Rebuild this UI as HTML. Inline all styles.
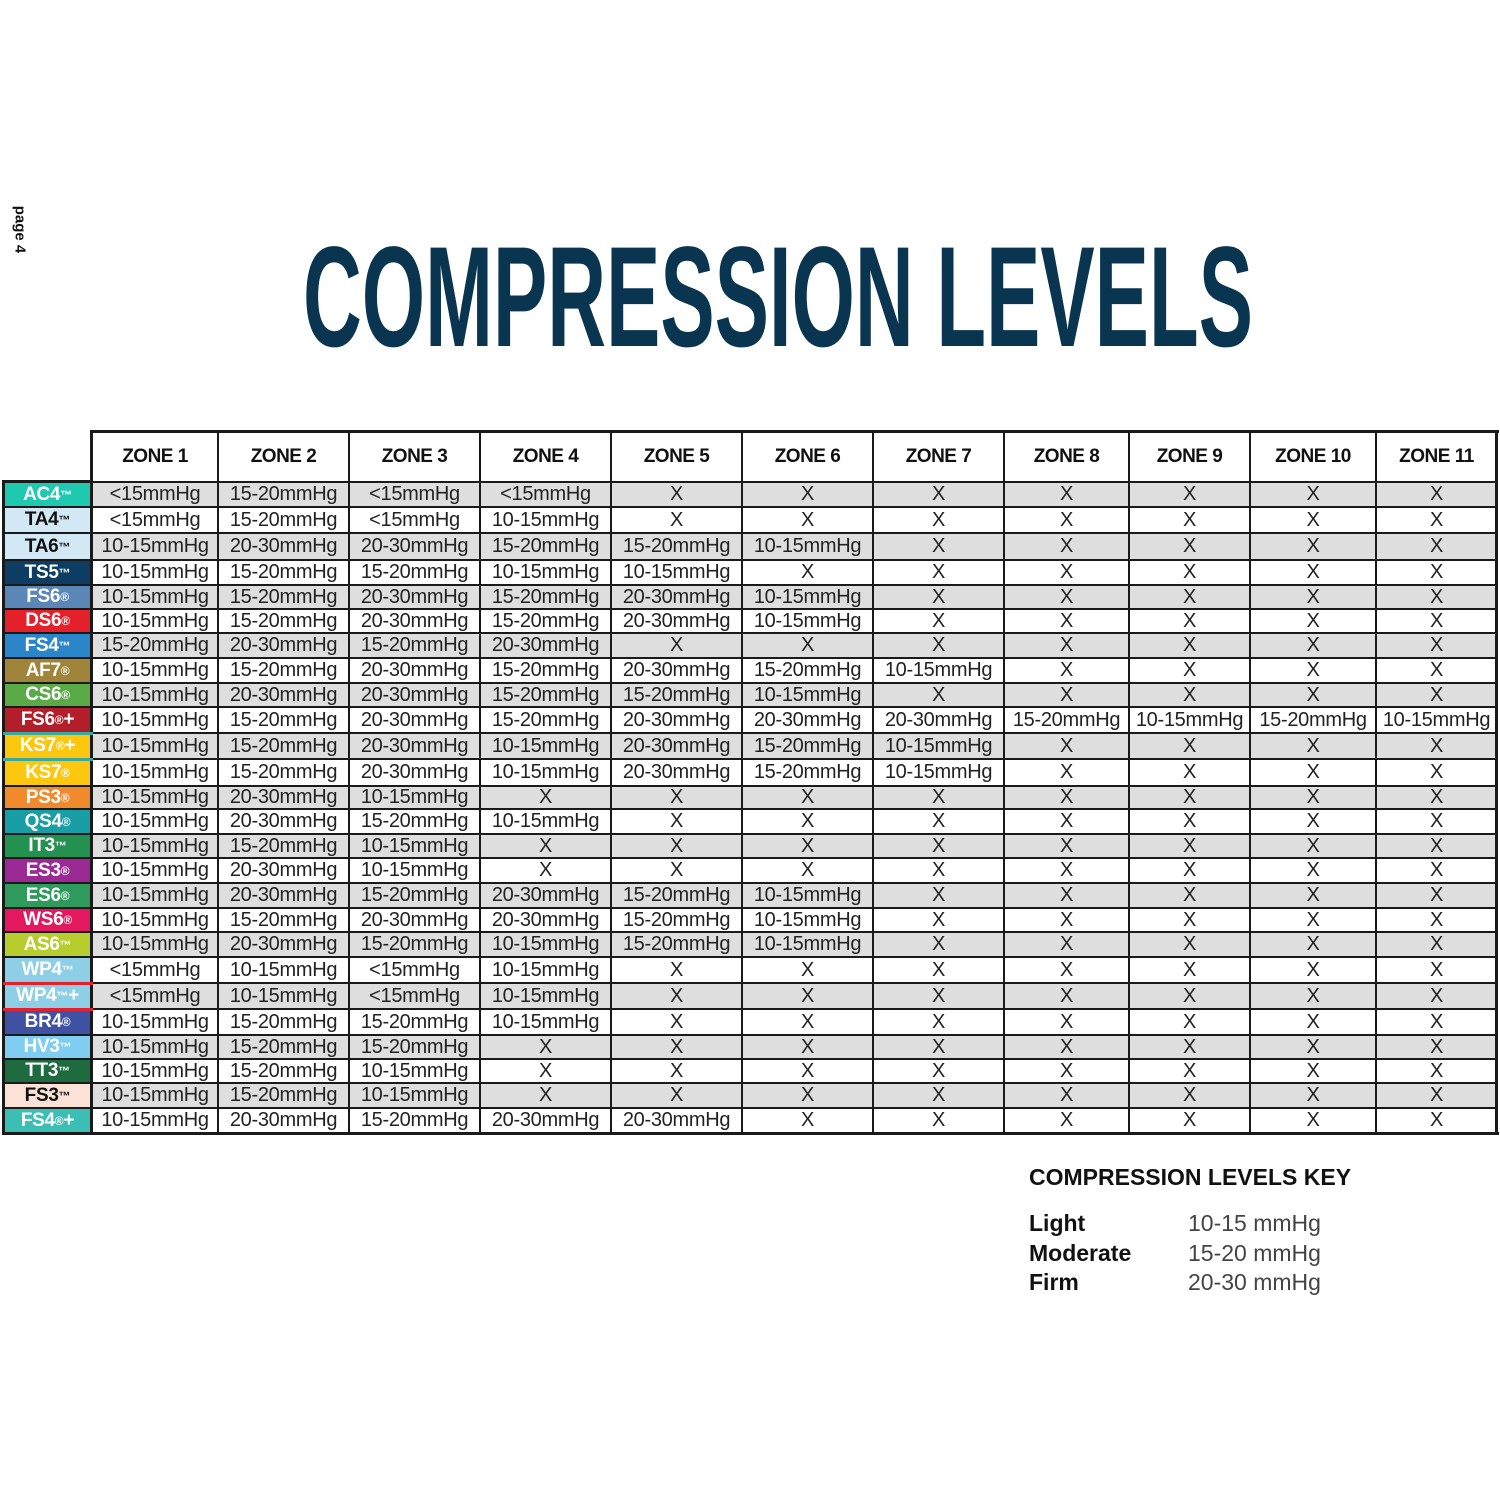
<!DOCTYPE html>
<html><head><meta charset="utf-8"><style>
body{margin:0;width:1500px;height:1500px;background:#fff;position:relative;overflow:hidden;font-family:"Liberation Sans",sans-serif;}
.c{position:absolute;box-sizing:border-box;display:flex;align-items:center;justify-content:center;font-size:20px;letter-spacing:-0.3px;color:#222;white-space:nowrap;}
.h{font-weight:bold;font-size:19px;color:#111;letter-spacing:-0.5px}
.l{font-weight:bold;font-size:19px;color:#fff;justify-content:center}
.v{position:absolute;background:#1a1a1a}
</style></head><body>
<div style="position:absolute;left:-10px;top:221px;transform:rotate(90deg);transform-origin:center;font-weight:bold;font-size:15px;color:#111;width:60px;text-align:center;white-space:nowrap;">page 4</div>
<svg style="position:absolute;left:0;top:0" width="1500" height="400"><text x="303" y="346" font-family="Liberation Sans, sans-serif" font-weight="bold" font-size="143" fill="#0a3550" textLength="950" lengthAdjust="spacingAndGlyphs">COMPRESSION LEVELS</text></svg>
<div id="t"></div>
<div style="position:absolute;left:1029px;top:1164px;font-weight:bold;font-size:23px;color:#111;">COMPRESSION LEVELS KEY</div>
<div style="position:absolute;left:1029px;top:1209px;font-weight:bold;font-size:23px;line-height:29.5px;color:#111;">Light<br>Moderate<br>Firm</div>
<div style="position:absolute;left:1188px;top:1209px;font-size:23px;line-height:29.5px;color:#444;">10-15 mmHg<br>15-20 mmHg<br>20-30 mmHg</div>
<script>
var cols=[92,218,349,480,611,742,873,1004,1129,1250,1376,1497];
var rows=[482,507,533,560,585,609,633,658,683,707,733,759,786,809,834,858,883,908,932,957,983,1009,1035,1059,1083,1108,1133];
var A="10-15mmHg",B="15-20mmHg",C="20-30mmHg",L="<15mmHg";
var data=[
["AC4™","#1fc9b0","#fff",[L,B,L,L]],
["TA4™","#d3e8f5","#111",[L,B,L,A]],
["TA6™","#d3e8f5","#111",[A,C,C,B,B,A]],
["TS5™","#0d3d63","#fff",[A,B,B,A,A]],
["FS6®","#5b86b8","#fff",[A,B,C,B,C,A]],
["DS6®","#e4202b","#fff",[A,B,C,B,C,A]],
["FS4™","#2a86c8","#fff",[B,C,B,C]],
["AF7®","#a0843a","#fff",[A,B,C,B,C,B,A]],
["CS6®","#5aab48","#fff",[A,C,C,B,B,A]],
["FS6®+","#b21f2a","#fff",[A,B,C,B,C,C,C,B,A,B,A]],
["KS7®+","#fcc70e","#fff",[A,B,C,A,C,B,A]],
["KS7®","#fcc70e","#fff",[A,B,C,A,C,B,A]],
["PS3®","#f18a2c","#fff",[A,C,A]],
["QS4®","#1a9ea6","#fff",[A,C,B,A]],
["IT3™","#23914f","#fff",[A,B,A]],
["ES3®","#9b2a94","#fff",[A,C,A]],
["ES6®","#2e9a5b","#fff",[A,C,B,C,B,A]],
["WS6®","#e3185e","#fff",[A,B,C,C,B,A]],
["AS6™","#b7cd2e","#fff",[A,C,B,A,B,A]],
["WP4™","#8ecfe8","#fff",[L,A,L,A]],
["WP4™+","#8ecfe8","#fff",[L,A,L,A]],
["BR4®","#3f51a3","#fff",[A,B,B,A]],
["HV3™","#7fcdf0","#fff",[A,B,B]],
["TT3™","#1d6b3f","#fff",[A,B,A]],
["FS3™","#fbe2d6","#111",[A,B,A]],
["FS4®+","#3bbfb4","#fff",[A,C,B,C,C]]];
var h="";
function d(x,y,w,hh,cls,st,txt){h+='<div class="'+cls+'" style="left:'+x+'px;top:'+y+'px;width:'+w+'px;height:'+hh+'px;'+st+'">'+txt+'</div>';}
for(var i=0;i<11;i++)d(cols[i],432,cols[i+1]-cols[i],50,"c h","","ZONE "+(i+1));
for(var r=0;r<26;r++){var y=rows[r],hh=rows[r+1]-y,row=data[r];
 var bg=r%2==0?"#dedede":"#fff";
 d(3,y,89,hh,"c l","background:"+row[1]+";color:"+row[2]+";",row[0].replace(/([™®])/g,'<sup style="font-size:12px;line-height:0">$1</sup>'));
 for(var i=0;i<11;i++){var v=row[3][i]||"X";d(cols[i],y,cols[i+1]-cols[i],hh,"c","background:"+bg+";",v.replace("<","&lt;"));}
 h+='<div class="v" style="left:3px;top:'+(y-1)+'px;width:1494px;height:2px"></div>';
}
for(var i=0;i<cols.length;i++)h+='<div class="v" style="left:'+(cols[i]-1)+'px;top:430px;width:2px;height:705px"></div>';
h+='<div class="v" style="left:91px;top:430px;width:1408px;height:3px"></div>';
h+='<div class="v" style="left:2px;top:1132px;width:1497px;height:3px"></div>';
h+='<div class="v" style="left:1495px;top:430px;width:3px;height:705px"></div>';
h+='<div class="v" style="left:2px;top:480px;width:3px;height:655px"></div>';
h+='<div class="v" style="left:90px;top:430px;width:3px;height:705px"></div>';
h+='<div class="v" style="left:2px;top:480px;width:90px;height:3px"></div>';
h+='<div style="position:absolute;left:3px;top:732px;width:90px;height:3px;background:#3aa89a"></div>';
h+='<div style="position:absolute;left:3px;top:758px;width:90px;height:3px;background:#3aa89a"></div>';
h+='<div style="position:absolute;left:3px;top:982px;width:90px;height:3px;background:#e4202b"></div>';
h+='<div style="position:absolute;left:3px;top:1008px;width:90px;height:3px;background:#e4202b"></div>';
document.getElementById("t").innerHTML=h;
</script>
</body></html>
